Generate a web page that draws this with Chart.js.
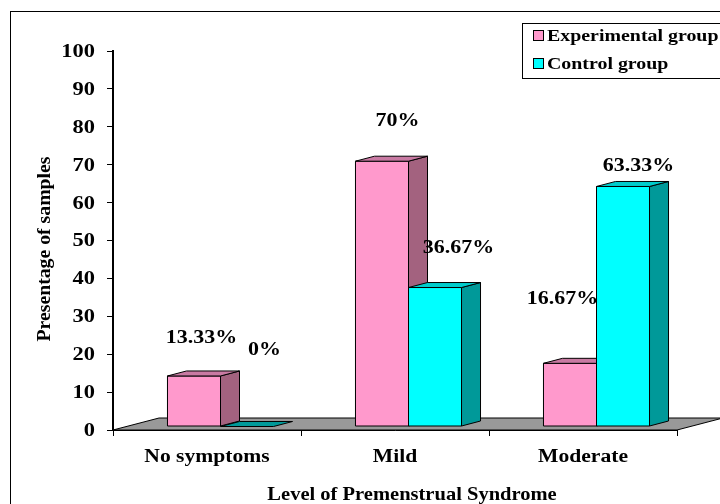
<!DOCTYPE html>
<html>
<head>
<meta charset="utf-8">
<script src="https://cdn.jsdelivr.net/npm/chart.js@4.4.1/dist/chart.umd.min.js"></script>
<style>
  html, body { margin: 0; padding: 0; background: #fff; }
  #chartBox { width: 720px; height: 504px; }
</style>
</head>
<body>
<div id="chartBox"><canvas id="pmsChart" width="720" height="504"></canvas></div>
<script>
// values
var categories = ["No symptoms", "Mild", "Moderate"];
var seriesNames = ["Experimental group", "Control group"];
var experimentalValues = [13.33, 70, 16.67];
var controlValues = [0, 36.67, 63.33];
var yTickStep = 10;
var yMax = 100;

var serifFamily = "'Liberation Serif', 'Times New Roman', serif";

// colours: front, top, side
var pinkFaces = ["#ff99cc", "#c97aa3", "#a3627f"];
var cyanFaces = ["#00ffff", "#00cccc", "#009999"];

// the original's text is a bit wide (stretched), so draw it with a horizontal scale
function wideText(ctx, text, x, y, align, sx) {
  ctx.save();
  ctx.translate(x, y);
  ctx.scale(sx, 1);
  ctx.textAlign = align;
  ctx.fillText(text, 0, 0);
  ctx.restore();
}

// 3d boxes + floor + labels + legend, all from what chart.js lays out
var box3d = {
  id: "box3d",
  beforeDatasetsDraw: function (chart, args, opts) {
    var ctx = chart.ctx;
    var area = chart.chartArea;
    var y0 = chart.scales.y.getPixelForValue(0);
    ctx.save();
    ctx.beginPath();
    ctx.moveTo(area.left, y0);
    ctx.lineTo(area.right, y0);
    ctx.lineTo(area.right + opts.floorDx, y0 + opts.floorDy);
    ctx.lineTo(area.left + opts.floorDx, y0 + opts.floorDy);
    ctx.closePath();
    ctx.fillStyle = "#999999";
    ctx.fill();
    ctx.strokeStyle = "#000";
    ctx.lineWidth = 1;
    ctx.stroke();
    ctx.restore();
  },
  afterDatasetsDraw: function (chart, args, opts) {
    var ctx = chart.ctx;
    var ox = (opts.floorDx - opts.depthDx) / 2;
    var oy = (opts.floorDy - opts.depthDy) / 2;
    var dx = opts.depthDx, dy = opts.depthDy;
    ctx.save();
    ctx.lineWidth = 1;
    ctx.strokeStyle = "#000";
    ctx.lineJoin = "round";
    for (var i = 0; i < categories.length; i++) {
      chart.data.datasets.forEach(function (ds, d) {
        var el = chart.getDatasetMeta(d).data[i];
        var faces = ds.faces;
        var x0 = el.x - el.width / 2 + ox, x1 = el.x + el.width / 2 + ox;
        var yt = el.y + oy, yb = el.base + oy;
        if (yb - yt > 0.5) {
          // front
          ctx.fillStyle = faces[0];
          ctx.fillRect(x0, yt, x1 - x0, yb - yt);
          ctx.strokeRect(x0, yt, x1 - x0, yb - yt);
          // side
          ctx.beginPath();
          ctx.moveTo(x1, yt);
          ctx.lineTo(x1 + dx, yt + dy);
          ctx.lineTo(x1 + dx, yb + dy);
          ctx.lineTo(x1, yb);
          ctx.closePath();
          ctx.fillStyle = faces[2];
          ctx.fill();
          ctx.stroke();
        }
        // top
        ctx.beginPath();
        ctx.moveTo(x0, yt);
        ctx.lineTo(x1, yt);
        ctx.lineTo(x1 + dx, yt + dy);
        ctx.lineTo(x0 + dx, yt + dy);
        ctx.closePath();
        ctx.fillStyle = (yb - yt > 0.5) ? faces[1] : faces[2];
        ctx.fill();
        ctx.stroke();
      });
    }
    // value labels
    ctx.font = "bold 18px " + serifFamily;
    ctx.fillStyle = "#000";
    ctx.textBaseline = "middle";
    chart.data.datasets.forEach(function (ds, d) {
      chart.getDatasetMeta(d).data.forEach(function (el, i) {
        var shift = opts.labelShift[d][i];
        wideText(ctx, ds.data[i] + "%", el.x + shift[0], el.y + shift[1], "center", 1.22);
      });
    });
    ctx.restore();
  },
  afterDraw: function (chart, args, opts) {
    var ctx = chart.ctx;
    var xs = chart.scales.x, ys = chart.scales.y;
    ctx.save();
    ctx.fillStyle = "#000";
    ctx.textBaseline = "middle";
    // tick labels (chart.js places the ticks, we only draw the wide text)
    ctx.font = "bold 19px " + serifFamily;
    ys.ticks.forEach(function (t, i) {
      wideText(ctx, String(t.value), ys.left + ys.width - 18, ys.getPixelForTick(i) + 1, "right", 1.18);
    });
    ctx.font = "bold 18px " + serifFamily;
    xs.ticks.forEach(function (t, i) {
      wideText(ctx, categories[i], xs.getPixelForTick(i), xs.top + 27, "center", 1.2);
    });
    // outer frame
    ctx.strokeStyle = "#000";
    ctx.lineWidth = 1;
    ctx.strokeRect(10.5, 11.5, 740, 520);
    // legend
    ctx.strokeRect(522.5, 23.5, 220, 55);
    ctx.font = "bold 17px " + serifFamily;
    chart.data.datasets.forEach(function (ds, d) {
      var cy = 36 + d * 28;
      ctx.fillStyle = ds.faces[0];
      ctx.fillRect(533.5, cy - 5.5, 10, 10);
      ctx.strokeRect(533.5, cy - 5.5, 10, 10);
      ctx.fillStyle = "#000";
      wideText(ctx, ds.label, 547, cy + 1, "left", 1.17);
    });
    // axis titles
    ctx.font = "bold 19px " + serifFamily;
    wideText(ctx, "Level of Premenstrual Syndrome", 412, 495, "center", 1.08);
    ctx.translate(45, 249);
    ctx.rotate(-Math.PI / 2);
    wideText(ctx, "Presentage of samples", 0, 0, "center", 1.04);
    ctx.restore();
  }
};

var ctx = document.getElementById("pmsChart");
var pmsChart = new Chart(ctx, {
  type: "bar",
  data: {
    labels: categories,
    datasets: [
      { label: seriesNames[0], data: experimentalValues, faces: pinkFaces,
        backgroundColor: "rgba(0,0,0,0)", borderWidth: 0 },
      { label: seriesNames[1], data: controlValues, faces: cyanFaces,
        backgroundColor: "rgba(0,0,0,0)", borderWidth: 0 }
    ]
  },
  options: {
    responsive: false,
    animation: false,
    devicePixelRatio: 1,
    categoryPercentage: 0.564,
    barPercentage: 1,
    layout: { padding: { top: 51, right: 43, left: 0, bottom: 0 } },
    plugins: {
      legend: { display: false },
      tooltip: { enabled: false },
      box3d: {
        floorDx: 46, floorDy: -12,
        depthDx: 19, depthDy: -5,
        // label nudges (px) from each bar's top centre: [dataset][category]
        labelShift: [
          [[21, -41], [29, -43], [6, -67]],
          [[31, -80], [37, -43], [29, -24]]
        ]
      }
    },
    scales: {
      x: {
        afterFit: function (scale) { scale.height = 74; },
        grid: { display: true, drawOnChartArea: false, drawTicks: true, tickLength: 6, color: "#000", offset: true },
        border: { display: true, color: "#000", width: 1 },
        ticks: { color: "rgba(0,0,0,0)", font: { family: serifFamily, size: 18, weight: "bold" }, padding: 12 }
      },
      y: {
        min: 0,
        max: yMax,
        afterFit: function (scale) { scale.width = 113; },
        grid: { display: true, drawOnChartArea: false, drawTicks: true, tickLength: 6, color: "#000" },
        border: { display: true, color: "#000", width: 2 },
        ticks: { stepSize: yTickStep, color: "rgba(0,0,0,0)", font: { family: serifFamily, size: 19, weight: "bold" }, padding: 12 }
      }
    }
  },
  plugins: [box3d]
});
</script>
</body>
</html>
